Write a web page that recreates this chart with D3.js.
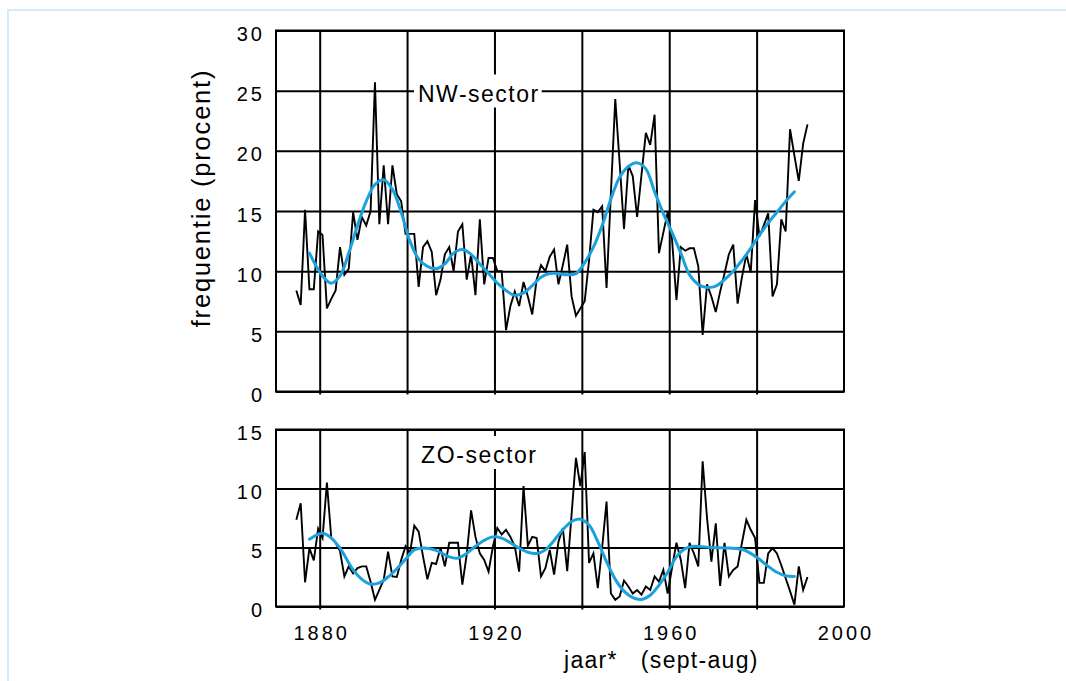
<!DOCTYPE html>
<html>
<head>
<meta charset="utf-8">
<script src="https://cdn.jsdelivr.net/npm/d3@7"></script>
<style>
  body { margin: 0; background: #fff; }
  text { font-family: "Liberation Sans", Arial, Helvetica, sans-serif; fill: #000; }
</style>
</head>
<body>
<svg id="chart" width="1066" height="681"></svg>
<script>
// yearly values, season sept-aug, first season 1875
var firstYear = 1875
var nwValues = [
  8.4, 7.2, 15.1, 8.5, 8.5, 13.3, 13.0, 6.9, 7.7, 8.4,
  12.0, 9.7, 10.2, 14.9, 12.6, 14.5, 13.8, 15.0, 25.7, 13.9,
  18.8, 13.9, 18.8, 16.4, 15.8, 13.1, 13.1, 13.1, 8.7, 12.0,
  12.5, 11.6, 8.0, 9.3, 11.4, 12.0, 10.0, 13.3, 13.9, 9.3,
  11.4, 8.0, 14.3, 8.9, 11.1, 11.1, 10.0, 10.0, 5.1, 7.1,
  8.3, 7.1, 9.1, 7.9, 6.4, 9.3, 10.5, 10.0, 11.2, 11.8,
  8.9, 10.5, 12.2, 7.9, 6.3, 6.9, 7.5, 10.9, 15.1, 14.9,
  15.4, 8.6, 16.5, 24.3, 19.0, 13.5, 18.8, 17.9, 14.5, 18.0,
  21.5, 20.5, 23.0, 11.5, 13.2, 14.9, 12.6, 7.6, 12.0, 11.7,
  11.9, 11.9, 10.4, 4.7, 8.9, 7.9, 6.6, 8.3, 9.8, 11.4,
  12.2, 7.3, 9.5, 11.4, 9.9, 15.9, 12.9, 13.8, 14.8, 7.9,
  8.9, 14.3, 13.3, 21.8, 19.6, 17.5, 20.6, 22.2
]
var zoValues = [
  7.35, 8.75, 2.05, 4.95, 3.9, 6.6, 5.8, 10.5, 5.8, 5.4,
  4.7, 2.55, 3.4, 2.8, 3.25, 3.4, 3.4, 2.1, 0.57, 1.4,
  2.25, 4.65, 2.55, 2.5, 3.95, 5.1, 4.5, 6.85, 6.35, 4.25,
  2.3, 3.7, 3.6, 4.95, 3.4, 5.4, 5.4, 5.4, 1.85, 4.4,
  8.15, 5.9, 4.5, 3.95, 2.95, 5.1, 6.65, 6.1, 6.5, 5.9,
  5.1, 2.95, 10.2, 5.15, 5.9, 5.8, 2.55, 3.25, 4.8, 2.7,
  5.5, 6.65, 3.0, 7.8, 12.6, 10.2, 13.1, 3.7, 4.5, 1.55,
  5.0, 8.9, 1.1, 0.57, 0.85, 2.2, 1.7, 1.1, 1.4, 1.0,
  1.7, 1.4, 2.55, 2.1, 3.1, 1.1, 3.3, 5.4, 3.95, 1.55,
  5.4, 4.5, 3.4, 12.3, 7.5, 3.8, 7.05, 1.75, 5.4, 2.55,
  3.1, 3.4, 5.4, 7.35, 6.5, 5.8, 2.0, 2.0, 4.5, 4.95,
  4.5, 3.5, 2.4, 1.3, 0.15, 3.4, 1.4, 2.5
]

// smoothed (blue) curves
var nwSmoothYears = [1878, 1881, 1883, 1885, 1887, 1889, 1891, 1893, 1895, 1897, 1899, 1901, 1903, 1905,
  1907, 1909, 1911, 1913, 1915, 1917, 1919, 1921, 1923, 1925, 1927, 1929, 1931, 1933, 1935, 1937, 1939,
  1941, 1943, 1945, 1947, 1949, 1951, 1953, 1955, 1957, 1959, 1961, 1963, 1965, 1967, 1969, 1971, 1973,
  1975, 1977, 1979, 1981, 1983, 1985, 1987, 1989]
var nwSmooth = [11.5, 9.6, 9.0, 9.6, 11.5, 13.8, 15.8, 17.2, 17.6, 16.8, 14.9, 12.5, 11.0, 10.4,
  10.2, 10.6, 11.5, 11.8, 11.4, 10.6, 9.8, 9.0, 8.4, 8.0, 8.2, 8.8, 9.5, 9.8, 9.8, 9.7, 9.8,
  10.7, 12.0, 13.8, 16.0, 17.8, 18.7, 19.0, 18.5, 16.6, 14.8, 13.2, 11.5, 9.7, 8.9, 8.65, 8.75, 9.3,
  10.0, 10.9, 11.9, 13.0, 14.0, 14.9, 15.8, 16.6]
var zoSmoothYears = [1878, 1881, 1883, 1885, 1888, 1890, 1892, 1894, 1896, 1898, 1900, 1902, 1904, 1907,
  1910, 1912, 1914, 1916, 1918, 1920, 1922, 1924, 1926, 1928, 1930, 1932, 1934, 1936, 1938, 1940, 1942,
  1944, 1946, 1948, 1950, 1952, 1954, 1956, 1958, 1960, 1962, 1964, 1966, 1970, 1974, 1977, 1979, 1981,
  1983, 1985, 1987, 1989]
var zoSmooth = [5.7, 6.2, 5.8, 4.95, 3.1, 2.3, 1.9, 2.0, 2.5, 3.2, 4.0, 4.8, 4.95, 4.75,
  4.2, 4.1, 4.5, 5.1, 5.6, 5.9, 5.8, 5.4, 4.95, 4.6, 4.5, 4.8, 5.6, 6.5, 7.2, 7.4, 6.9,
  5.5, 3.8, 2.3, 1.3, 0.75, 0.6, 0.95, 1.8, 2.9, 4.2, 4.9, 5.1, 5.0, 4.95, 4.85, 4.5, 4.0,
  3.4, 2.9, 2.6, 2.55]

var nwTicks = [0, 5, 10, 15, 20, 25, 30]
var zoTicks = [0, 5, 10, 15]
var gridYears = [1880, 1900, 1920, 1940, 1960, 1980]
var yearLabels = [1880, 1920, 1960, 2000]

var seasonShift = -0.35 // sept-aug season sits a bit before the calendar year
var blue = "#1ba1dc"

var svg = d3.select("#chart")

// light blue page frame
svg.append("rect")
  .attr("x", 8).attr("y", 10)
  .attr("width", 1100).attr("height", 700)
  .attr("fill", "none")
  .attr("stroke", "#d5ebfa")
  .attr("stroke-width", 2)

var x = d3.scaleLinear().domain([1870, 2000]).range([276, 844])
var yNW = d3.scaleLinear().domain([0, 30]).range([391.5, 30.5])
var yZO = d3.scaleLinear().domain([0, 15]).range([606.5, 429.5])
var plotW = x.range()[1] - x.range()[0]

function toPoints(values) {
  return values.map(function(v, i) { return {year: firstYear + i, v: v} })
}
function toSmooth(years, values) {
  return years.map(function(yr, i) { return {year: yr, v: values[i]} })
}

function drawPanel(y, ticks) {
  var g = svg.append("g")
  var h = y.range()[0] - y.range()[1]

  // vertical grid lines, poking a little below the frame
  g.append("g")
    .attr("transform", "translate(0," + (y.range()[0] + 3) + ")")
    .call(d3.axisBottom(x).tickValues(gridYears).tickSize(-(h + 3)).tickFormat(""))
    .call(function(a) { a.select(".domain").remove() })
    .selectAll("line").attr("stroke", "#000").attr("stroke-width", 2)

  // horizontal grid + y labels
  g.append("g")
    .attr("transform", "translate(" + x.range()[0] + ",0)")
    .call(d3.axisLeft(y).tickValues(ticks).tickSize(-plotW).tickPadding(11))
    .call(function(a) {
      a.select(".domain").remove()
      a.selectAll("line").attr("stroke", "#000").attr("stroke-width", 2)
      a.selectAll("text")
        .attr("font-family", "Liberation Sans, Arial, sans-serif")
        .attr("font-size", 20)
        .attr("letter-spacing", 3)
        .attr("dy", "0.5em")
        .attr("fill", "#000")
    })

  g.append("rect")
    .attr("x", x.range()[0]).attr("y", y.range()[1])
    .attr("width", plotW).attr("height", h)
    .attr("fill", "none").attr("stroke", "#000").attr("stroke-width", 2)

  return g
}

function drawLines(g, y, raw, smooth) {
  var rawLine = d3.line()
    .x(function(d) { return x(d.year + seasonShift) })
    .y(function(d) { return y(d.v) })
  var smoothLine = d3.line()
    .x(function(d) { return x(d.year + seasonShift) })
    .y(function(d) { return y(d.v) })
    .curve(d3.curveCatmullRom.alpha(0.5))

  g.append("path").datum(raw)
    .attr("d", rawLine)
    .attr("fill", "none").attr("stroke", "#000")
    .attr("stroke-width", 1.9).attr("stroke-linejoin", "miter")

  g.append("path").datum(smooth)
    .attr("d", smoothLine)
    .attr("fill", "none").attr("stroke", blue)
    .attr("stroke-width", 3).attr("stroke-linecap", "round")
}

function sectorLabel(g, label, lx, ly, spacing) {
  var lg = g.append("g")
  var bg = lg.append("rect").attr("fill", "#fff")
  var t = lg.append("text")
    .attr("x", lx).attr("y", ly)
    .attr("font-size", 23)
    .attr("letter-spacing", spacing)
    .text(label)
  var b = t.node().getBBox()
  bg.attr("x", b.x - 4).attr("y", b.y - 6)
    .attr("width", b.width + 6).attr("height", b.height + 7)
}

var gNW = drawPanel(yNW, nwTicks)
sectorLabel(gNW, "NW-sector", 418, 101.5, 1.5)
drawLines(gNW, yNW, toPoints(nwValues), toSmooth(nwSmoothYears, nwSmooth))

var gZO = drawPanel(yZO, zoTicks)
sectorLabel(gZO, "ZO-sector", 421, 463, 1.6)
drawLines(gZO, yZO, toPoints(zoValues), toSmooth(zoSmoothYears, zoSmooth))

// year labels under the lower panel
svg.append("g")
  .attr("transform", "translate(0," + yZO.range()[0] + ")")
  .call(d3.axisBottom(x).tickValues(yearLabels).tickSize(0).tickPadding(19).tickFormat(d3.format("d")))
  .call(function(a) {
    a.select(".domain").remove()
    a.selectAll("text")
      .attr("font-family", "Liberation Sans, Arial, sans-serif")
      .attr("font-size", 20)
      .attr("letter-spacing", 3)
      .attr("dx", 1.5)
      .attr("fill", "#000")
  })

// axis titles
svg.append("text")
  .attr("transform", "translate(210,198) rotate(-90)")
  .attr("text-anchor", "middle")
  .attr("font-size", 25.5)
  .attr("letter-spacing", 1.8)
  .text("frequentie (procent)")

svg.append("text")
  .attr("x", 564).attr("y", 668)
  .attr("font-size", 23)
  .attr("letter-spacing", 1.3)
  .attr("xml:space", "preserve")
  .style("white-space", "pre")
  .text("jaar*   (sept-aug)")
</script>
</body>
</html>
